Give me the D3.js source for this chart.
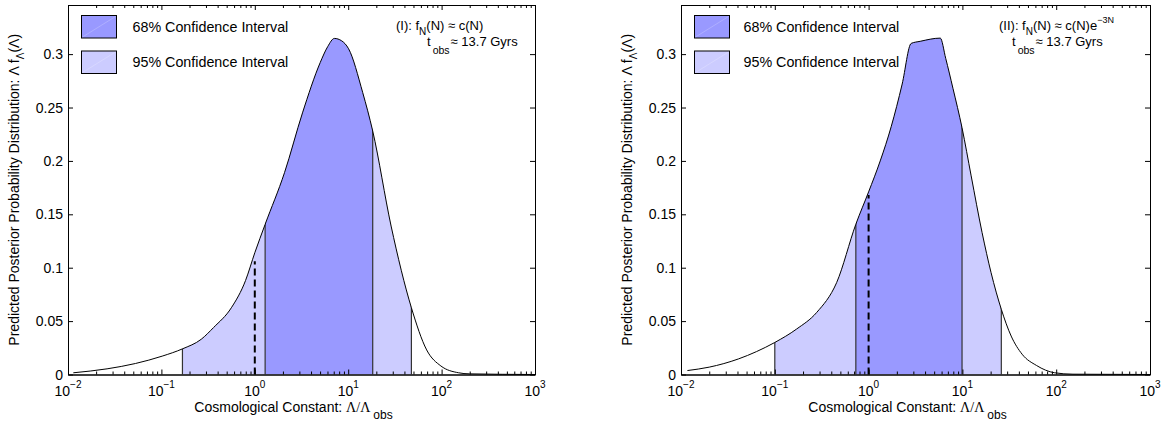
<!DOCTYPE html>
<html>
<head>
<meta charset="utf-8">
<script src="https://cdn.jsdelivr.net/npm/d3@7"></script>
<style>
  body { margin: 0; background: #fff; }
  text { font-family: "Liberation Sans", Arial, sans-serif; font-size: 14px; fill: #000; }
  .serif { font-family: "Liberation Serif", "Times New Roman", serif; }
  .note { font-size: 13px; }
  .legend text { font-size: 14.3px; }
</style>
</head>
<body>
<svg id="fig" width="1171" height="425"></svg>
<script>
/* -------------------------------------------------------------------------- */
// data
const xTicks = [1e-2, 1e-1, 1e0, 1e1, 1e2, 1e3];
const xTickExp = ['\u22122', '\u22121', '0', '1', '2', '3'];
const yTicks = [0, 0.05, 0.1, 0.15, 0.2, 0.25, 0.3];
const yTickLabels = ['0', '0.05', '0.1', '0.15', '0.2', '0.25', '0.3'];
const yMax = 0.346;
const legendLabels = ['68% Confidence Interval', '95% Confidence Interval'];

// panel (I): f_N(N) ~ c(N)
const lambdaI = [0.0114, 0.0262, 0.0527, 0.102, 0.168, 0.267, 0.362, 0.561, 0.796, 1.0,
                 1.29, 2.08, 3.24, 5.01, 6.03, 7.11, 8.5, 10.1, 14.3, 18.3,
                 28.8, 47.5, 69.2, 98.2, 152, 198, 1000];
const probI   = [0.0016, 0.0053, 0.0103, 0.0172, 0.0240, 0.033, 0.044, 0.0625, 0.088, 0.114,
                 0.1406, 0.189, 0.245, 0.292, 0.307, 0.3147, 0.3125, 0.305, 0.264, 0.228,
                 0.139, 0.0625, 0.023, 0.008, 0.0016, 0.0006, 0];
const ci68I = [1.29, 18.3];
const ci95I = [0.168, 47.5];
const obsTopI = 0.106;

// panel (II): f_N(N) ~ c(N) e^{-3N}
const lambdaII = [0.0117, 0.020, 0.041, 0.064, 0.1, 0.171, 0.279, 0.456, 0.731, 1.0,
                  1.33, 1.74, 2.28, 2.84, 3.55, 5.81, 6.64, 7.93, 9.91, 12.4,
                  16.2, 20.2, 26.0, 33.1, 43.3, 61.8, 96.4, 151, 1000];
const probII   = [0.0037, 0.0069, 0.0146, 0.0215, 0.030, 0.0426, 0.058, 0.086, 0.1407, 0.171,
                  0.200, 0.232, 0.272, 0.310, 0.312, 0.315, 0.296, 0.268, 0.231, 0.186,
                  0.133, 0.0955, 0.061, 0.036, 0.019, 0.0084, 0.0016, 0.0003, 0];
const ci68II = [0.731, 9.91];
const ci95II = [0.1, 26.0];
const obsTopII = 0.168;

/* -------------------------------------------------------------------------- */
const svg = d3.select('#fig');
const defs = svg.append('defs');
const top_ = 5, bottom_ = 374.5;

function draw_panel(cfg) {

  const g = svg.append('g');
  const x = d3.scaleLog().domain([1e-2, 1e3]).range([cfg.left, cfg.right]);
  const y = d3.scaleLinear().domain([0, yMax]).range([bottom_, top_]);

  const pts = cfg.lambda.map((l, i) => [l, cfg.prob[i]]);

  const line = d3.line().x(d => x(d[0])).y(d => y(d[1])).curve(d3.curveMonotoneX);
  const area = d3.area().x(d => x(d[0])).y0(y(0)).y1(d => y(d[1])).curve(d3.curveMonotoneX);

  // everything under the curve is clipped by the curve itself
  const clipId = 'under' + cfg.id;
  defs.append('clipPath').attr('id', clipId)
    .append('path').attr('d', area(pts));

  const under = g.append('g').attr('clip-path', `url(#${clipId})`);

  under.append('rect')
    .attr('x', x(cfg.ci95[0])).attr('width', x(cfg.ci95[1]) - x(cfg.ci95[0]))
    .attr('y', top_).attr('height', bottom_ - top_)
    .attr('fill', '#ccccff');
  under.append('rect')
    .attr('x', x(cfg.ci68[0])).attr('width', x(cfg.ci68[1]) - x(cfg.ci68[0]))
    .attr('y', top_).attr('height', bottom_ - top_)
    .attr('fill', '#9999ff');

  // interval edges
  under.selectAll('line.edge')
    .data(cfg.ci95.concat(cfg.ci68))
    .enter().append('line')
    .attr('class', 'edge')
    .attr('x1', d => x(d)).attr('x2', d => x(d))
    .attr('y1', bottom_).attr('y2', top_)
    .attr('stroke', '#333').attr('stroke-width', 1.2);

  // observed value
  g.append('line')
    .attr('x1', x(1)).attr('x2', x(1))
    .attr('y1', y(0)).attr('y2', y(cfg.obsTop))
    .attr('stroke', '#000').attr('stroke-width', 2)
    .attr('stroke-dasharray', '7,4');

  g.append('path').attr('d', line(pts))
    .attr('fill', 'none').attr('stroke', '#000').attr('stroke-width', 1);

  // --------------------------------------------------
  // axes, MATLAB style: ticks inward on all four sides
  const minor = x.ticks().filter(d => !xTicks.some(t => Math.abs(t - d) < 1e-9 * t));

  const ax = [
    {a: d3.axisBottom(x).tickValues(xTicks).tickSize(-5), tr: `translate(0,${bottom_})`},
    {a: d3.axisTop(x).tickValues(xTicks).tickSize(-5), tr: `translate(0,${top_})`},
    {a: d3.axisBottom(x).tickValues(minor).tickSize(-3), tr: `translate(0,${bottom_})`},
    {a: d3.axisTop(x).tickValues(minor).tickSize(-3), tr: `translate(0,${top_})`},
    {a: d3.axisLeft(y).tickValues(yTicks).tickSize(-5), tr: `translate(${cfg.left},0)`},
    {a: d3.axisRight(y).tickValues(yTicks).tickSize(-5), tr: `translate(${cfg.right},0)`}
  ];
  ax.forEach(d => {
    const s = g.append('g').attr('transform', d.tr)
      .call(d.a.tickSizeOuter(0).tickFormat(''));
    s.select('.domain').attr('stroke', '#000');
    s.selectAll('.tick line').attr('stroke', '#000');
  });

  // y tick labels
  g.selectAll('text.ylab')
    .data(yTicks)
    .enter().append('text')
    .attr('class', 'ylab')
    .attr('x', cfg.left - 5)
    .attr('y', d => y(d) + 5)
    .attr('text-anchor', 'end')
    .text((d, i) => yTickLabels[i]);

  // x tick labels 10^k
  let xl = g.selectAll('text.xlab')
    .data(xTicks)
    .enter().append('text')
    .attr('class', 'xlab')
    .attr('x', d => x(d))
    .attr('y', 396)
    .attr('text-anchor', 'middle');
  xl.append('tspan').text('10');
  xl.append('tspan').attr('dy', -8).style('font-size', '10px').text((d, i) => xTickExp[i]);

  // axis titles
  let t = g.append('text')
    .attr('x', (cfg.left + cfg.right) / 2 - 8)
    .attr('y', 412)
    .attr('text-anchor', 'middle');
  t.append('tspan').text('Cosmological Constant: ');
  t.append('tspan').attr('class', 'serif').text('\u039b/\u039b');
  t.append('tspan').attr('dx', 3).attr('dy', 7).style('font-size', '12px').text('obs');

  t = g.append('text')
    .attr('transform', `translate(${cfg.left - 49},${(top_ + bottom_) / 2}) rotate(-90)`)
    .attr('text-anchor', 'middle');
  t.append('tspan').text('Predicted Posterior Probability Distribution: \u039b f');
  t.append('tspan').attr('dy', 5).style('font-size', '10px').text('\u039b');
  t.append('tspan').attr('dy', -5).text('(\u039b)');

  // --------------------------------------------------
  // legend
  const lg = g.selectAll('g.legend')
    .data(legendLabels)
    .enter().append('g')
    .attr('class', 'legend')
    .attr('transform', (d, i) => `translate(${cfg.left + 13.5},${15.5 + i * 35.5})`);
  lg.append('rect')
    .attr('width', 35).attr('height', 22.5)
    .attr('fill', (d, i) => i == 0 ? '#9999ff' : '#ccccff')
    .attr('stroke', '#000').attr('stroke-width', 1);
  lg.append('line')
    .attr('x1', 1).attr('y1', 21.5).attr('x2', 34).attr('y2', 1)
    .attr('stroke', '#fff').attr('stroke-opacity', 0.35).attr('stroke-width', 0.6);
  lg.append('text')
    .attr('x', cfg.legendText).attr('y', 16)
    .text(d => d);

  // --------------------------------------------------
  // model annotation
  t = g.append('text').attr('class', 'note').attr('x', cfg.right - cfg.note1).attr('y', 30);
  t.append('tspan').text(cfg.tag + ': f');
  t.append('tspan').attr('dy', 5).style('font-size', '10px').text('N');
  t.append('tspan').attr('dy', -5).text('(N) \u2248 c(N)' + (cfg.exp ? 'e' : ''));
  if (cfg.exp)
    t.append('tspan').attr('dy', -7).style('font-size', '9px').text(cfg.exp);

  t = g.append('text').attr('class', 'note').attr('x', cfg.right - cfg.note2).attr('y', 46);
  t.append('tspan').text('t');
  t.append('tspan').attr('dx', 2).attr('dy', 8).style('font-size', '10.5px').text('obs');
  t.append('tspan').attr('dx', 1).attr('dy', -8).text('\u2248 13.7 Gyrs');
}

/* -------------------------------------------------------------------------- */
draw_panel({id: 'I', left: 68, right: 535, lambda: lambdaI, prob: probI,
            ci68: ci68I, ci95: ci95I, obsTop: obsTopI,
            legendText: 51, tag: '(I)', exp: null, note1: 139, note2: 108});

draw_panel({id: 'II', left: 681, right: 1150, lambda: lambdaII, prob: probII,
            ci68: ci68II, ci95: ci95II, obsTop: obsTopII,
            legendText: 49, tag: '(II)', exp: '\u22123N', note1: 151, note2: 138});
</script>
</body>
</html>
